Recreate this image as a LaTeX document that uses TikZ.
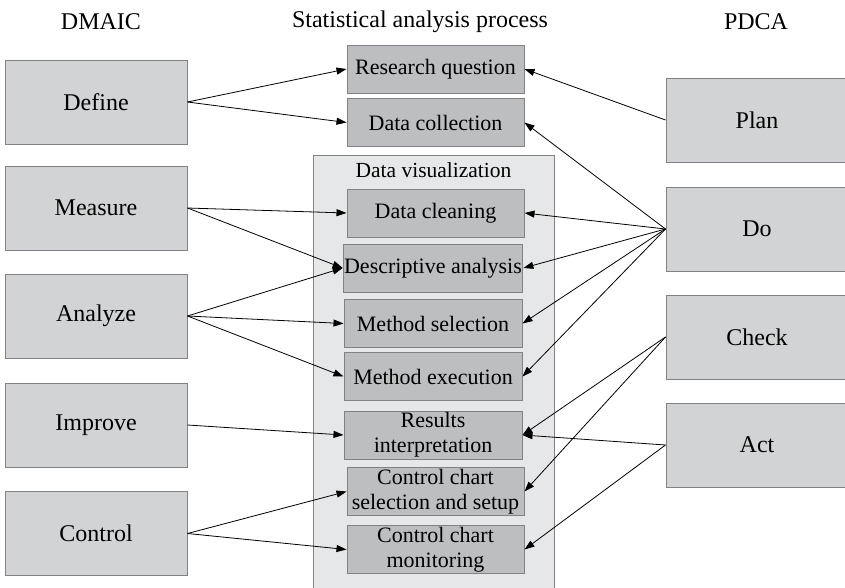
\documentclass[tikz,border=0pt]{standalone}
\usepackage{fontspec}
\setmainfont{Liberation Serif}
\usetikzlibrary{arrows.meta}
\definecolor{boxline}{HTML}{808285}
\definecolor{phasefill}{HTML}{D1D3D4}
\definecolor{taskfill}{HTML}{BCBEC0}
\definecolor{visfill}{HTML}{E6E7E8}
\begin{document}
\begin{tikzpicture}[x=1pt, y=-1pt, >={Triangle[length=10pt,width=7pt]},
  every node/.style={font=\fontsize{22}{25}\selectfont},
  heading/.style={font=\fontsize{24}{28}\selectfont},
  phase/.style={draw=boxline, fill=phasefill, line width=1pt, minimum width=182pt, minimum height=84pt, font=\fontsize{24}{28}\selectfont},
  task/.style={draw=boxline, fill=taskfill, line width=1pt, minimum width=177pt, minimum height=48pt, inner sep=1pt, align=center},
  link/.style={->, line width=0.8pt}]
  \clip (0,0) rectangle (845,587);
  % column titles
  \node (dmaic) [heading] at (101,22) {DMAIC};
  \node (process) [heading] at (420,22) {Statistical analysis process};
  \node (pdca) [heading] at (756,22) {PDCA};
  % DMAIC
  \node (define) [phase] at (96,102) {Define};
  \node (measure) [phase] at (96,208) {Measure};
  \node (analyze) [phase] at (96,316) {Analyze};
  \node (improve) [phase] at (96,425) {Improve};
  \node (control) [phase] at (96,533.5) {Control};
  % PDCA
  \node (plan) [phase] at (757,120) {Plan};
  \node (do) [phase] at (757,229) {Do};
  \node (check) [phase] at (757,337) {Check};
  \node (act) [phase] at (757,445) {Act};
  % statistical analysis process
  \node (vis) [draw=boxline, fill=visfill, line width=1pt, minimum width=241pt, minimum height=450pt] at (433.5,380) {};
  \node (vistitle) [font=\fontsize{21.5}{25}\selectfont] at (433.5,170) {Data visualization};
  \node (question) [task] at (435.5,69) {Research question};
  \node (collection) [task] at (435.5,122.5) {Data collection};
  \node (cleaning) [task] at (435.5,213) {Data cleaning};
  \node (descriptive) [task, minimum width=178pt] at (433,268) {Descriptive analysis};
  \node (selection) [task, minimum width=178pt] at (433,323.5) {Method selection};
  \node (execution) [task, minimum width=178pt] at (433,376.5) {Method execution};
  \node (results) [task, minimum width=178pt] at (433,435) {Results\\interpretation};
  \node (chartsetup) [task] at (435.5,491.5) {Control chart\\selection and setup};
  \node (monitoring) [task] at (435.5,549.5) {Control chart\\monitoring};
  % DMAIC links
  \draw[link] (define.east) -- (question.west);
  \draw[link] (define.east) -- (collection.west);
  \draw[link] (measure.east) -- (cleaning.west);
  \draw[link] (measure.east) -- (descriptive.west);
  \draw[link] (analyze.east) -- (descriptive.west);
  \draw[link] (analyze.east) -- (selection.west);
  \draw[link] (analyze.east) -- (execution.west);
  \draw[link] (improve.east) -- (results.west);
  \draw[link] (control.east) -- (chartsetup.west);
  \draw[link] (control.east) -- (monitoring.west);
  % PDCA links
  \draw[link] (plan.west) -- (question.east);
  \draw[link] (do.west) -- (collection.east);
  \draw[link] (do.west) -- (cleaning.east);
  \draw[link] (do.west) -- (descriptive.east);
  \draw[link] (do.west) -- (selection.east);
  \draw[link] (do.west) -- (execution.east);
  \draw[link] (check.west) -- (results.east);
  \draw[link] (check.west) -- (chartsetup.east);
  \draw[link] (act.west) -- (results.east);
  \draw[link] (act.west) -- (monitoring.east);
\end{tikzpicture}
\end{document}
